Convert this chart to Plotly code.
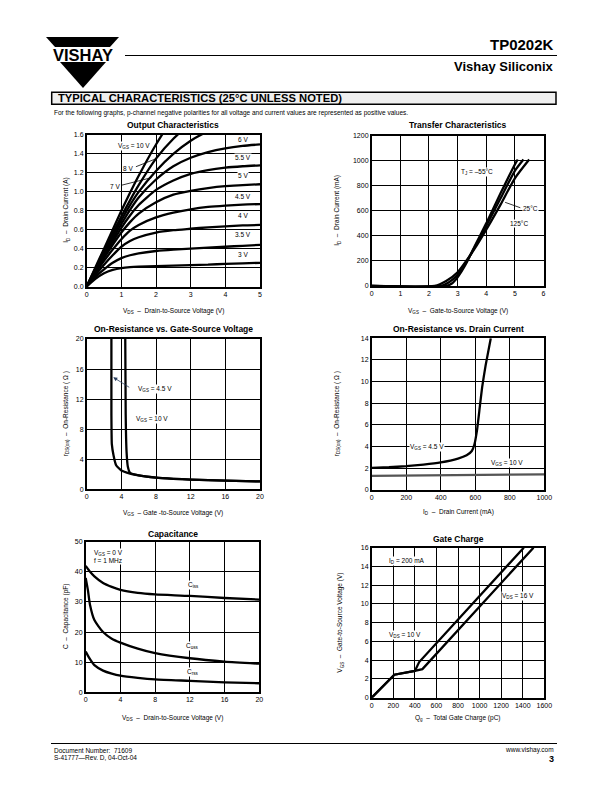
import plotly.graph_objects as go

W, H = 612, 792
FONT = "Liberation Sans"

# ---------------- data ----------------
# Output characteristics (VDS, ID in A) per VGS
out_vds = [0, 0.25, 0.5, 0.75, 1, 1.25, 1.5, 2, 2.5, 3, 3.5, 4, 4.5, 5]
out_10v = [0, 0.20, 0.40, 0.60, 0.80, 0.99, 1.17, 1.50, 1.78, 2.0, 2.2, 2.4, 2.6, 2.8]
out_8v = [0, 0.19, 0.38, 0.56, 0.74, 0.91, 1.07, 1.35, 1.56, 1.72, 1.85, 1.95, 2.0, 2.05]
out_7v = [0, 0.18, 0.36, 0.53, 0.70, 0.86, 1.00, 1.22, 1.40, 1.54, 1.64, 1.72, 1.78, 1.82]
out_6v = [0, 0.17, 0.34, 0.50, 0.66, 0.81, 0.94, 1.13, 1.27, 1.36, 1.42, 1.46, 1.485, 1.50]
out_55v = [0, 0.16, 0.32, 0.47, 0.62, 0.75, 0.86, 1.02, 1.12, 1.19, 1.23, 1.255, 1.27, 1.28]
out_5v = [0, 0.15, 0.30, 0.44, 0.57, 0.68, 0.77, 0.89, 0.97, 1.01, 1.04, 1.06, 1.07, 1.08]
out_45v = [0, 0.14, 0.27, 0.39, 0.50, 0.59, 0.65, 0.73, 0.78, 0.815, 0.84, 0.855, 0.865, 0.87]
out_4v = [0, 0.12, 0.23, 0.33, 0.42, 0.48, 0.52, 0.57, 0.595, 0.61, 0.625, 0.635, 0.645, 0.65]
out_35v = [0, 0.10, 0.18, 0.25, 0.30, 0.33, 0.35, 0.375, 0.39, 0.40, 0.41, 0.42, 0.43, 0.44]
out_3v = [0, 0.08, 0.14, 0.175, 0.195, 0.205, 0.21, 0.215, 0.22, 0.225, 0.23, 0.24, 0.245, 0.25]
out_series = [out_10v, out_8v, out_7v, out_6v, out_55v, out_5v, out_45v, out_4v, out_35v, out_3v]
out_labels = ["6 V", "5.5 V", "5 V", "4.5 V", "4 V", "3.5 V", "3 V"]
out_label_y = [1.55, 1.36, 1.17, 0.95, 0.755, 0.55, 0.34]

# Transfer characteristics (VGS, ID mA)
tr_m55_x = [0, 2.6, 2.8, 3.0, 3.3, 3.6, 4.0, 4.5, 5.0, 5.1]
tr_m55_y = [0, 0, 20, 70, 180, 320, 500, 740, 970, 1010]
tr_25_x = [0, 2.4, 2.7, 3.0, 3.3, 3.6, 4.0, 4.5, 5.0, 5.3]
tr_25_y = [0, 0, 30, 90, 190, 310, 480, 700, 920, 1010]
tr_125_x = [0, 2.2, 2.6, 3.0, 3.3, 3.6, 4.0, 4.5, 5.0, 5.5]
tr_125_y = [0, 0, 40, 110, 200, 300, 450, 650, 860, 1010]

# On-resistance vs gate-source voltage
rg_a_x = [2.85, 2.85, 2.9, 3.1, 3.4, 4.0, 5.0, 6.0, 8.0, 10.0, 12.0, 16.0, 20.0]
rg_a_y = [20, 10, 6, 4.5, 3.2, 2.5, 2.1, 1.85, 1.55, 1.4, 1.3, 1.15, 1.05]
rg_b_x = [4.45, 4.5, 4.6, 4.75, 5.0, 6.0, 8.0, 10.0, 12.0, 16.0, 20.0]
rg_b_y = [20, 10, 5, 3, 2.2, 1.85, 1.55, 1.4, 1.3, 1.15, 1.05]

# On-resistance vs drain current
rd_45_x = [0, 100, 200, 300, 400, 500, 550, 580, 595, 610, 625, 640, 660, 690]
rd_45_y = [2.05, 2.1, 2.2, 2.35, 2.55, 2.9, 3.2, 3.6, 4.2, 5.5, 7.5, 9.5, 11.5, 14]
rd_10_x = [0, 500, 1000]
rd_10_y = [1.3, 1.35, 1.45]

# Capacitance (VDS, pF)
cap_x = [0, 0.25, 0.5, 1, 2, 3, 4, 6, 8, 12, 16, 20]
ciss = [42, 41, 40, 38.5, 36.3, 35, 34, 33, 32.5, 32, 31.3, 30.8]
coss = [38, 34, 29, 24, 20, 17.8, 16.5, 14.5, 13, 11.3, 10.2, 9.5]
crss = [13.5, 12.2, 11, 9, 7.2, 6.2, 5.5, 4.8, 4.3, 3.8, 3.3, 3.0]

# Gate charge (pC, V)
gc_10_x = [0, 210, 400, 440, 1410]
gc_10_y = [0, 2.45, 2.85, 3.8, 16]
gc_16_x = [0, 210, 400, 470, 1500]
gc_16_y = [0, 2.45, 2.85, 3.05, 16]

# ticks
t1x = [0, 1, 2, 3, 4, 5]; t1y = [0, 0.2, 0.4, 0.6, 0.8, 1.0, 1.2, 1.4, 1.6]
t2x = [0, 1, 2, 3, 4, 5, 6]; t2y = [0, 200, 400, 600, 800, 1000, 1200]
t3x = [0, 4, 8, 12, 16, 20]; t3y = [0, 4, 8, 12, 16, 20]
t4x = [0, 200, 400, 600, 800, 1000]; t4y = [0, 2, 4, 6, 8, 10, 12, 14]
t5x = [0, 4, 8, 12, 16, 20]; t5y = [0, 10, 20, 30, 40, 50]
t6x = [0, 200, 400, 600, 800, 1000, 1200, 1400, 1600]; t6y = [0, 2, 4, 6, 8, 10, 12, 14, 16]


def px(p):
    return p / W


def py(p):
    return 1 - p / H


fig = go.Figure()
LW = 2.3
line = dict(color="black", width=LW, shape="spline", smoothing=0.6)

for s in out_series:
    fig.add_trace(go.Scatter(x=out_vds, y=s, mode="lines", line=line, xaxis="x", yaxis="y", hoverinfo="skip"))
for xx, yy in [(tr_m55_x, tr_m55_y), (tr_25_x, tr_25_y), (tr_125_x, tr_125_y)]:
    fig.add_trace(go.Scatter(x=xx, y=yy, mode="lines", line=line, xaxis="x2", yaxis="y2"))
for xx, yy in [(rg_a_x, rg_a_y), (rg_b_x, rg_b_y)]:
    fig.add_trace(go.Scatter(x=xx, y=yy, mode="lines", line=dict(color="black", width=LW, shape="spline", smoothing=0.4), xaxis="x3", yaxis="y3"))
fig.add_trace(go.Scatter(x=rd_45_x, y=rd_45_y, mode="lines", line=dict(color="black", width=LW, shape="spline", smoothing=0.4), xaxis="x4", yaxis="y4"))
fig.add_trace(go.Scatter(x=rd_10_x, y=rd_10_y, mode="lines", line=dict(color="#555555", width=LW), xaxis="x4", yaxis="y4"))
for yy in [ciss, coss, crss]:
    fig.add_trace(go.Scatter(x=cap_x, y=yy, mode="lines", line=line, xaxis="x5", yaxis="y5"))
for xx, yy in [(gc_10_x, gc_10_y), (gc_16_x, gc_16_y)]:
    fig.add_trace(go.Scatter(x=xx, y=yy, mode="lines", line=dict(color="black", width=LW), xaxis="x6", yaxis="y6"))

# plot rectangles in pixels: (left, right, top, bottom)
boxes = [
    (86.7, 260, 135, 286.5),
    (371.7, 543.5, 135.7, 286),
    (86.7, 260, 339, 489.3),
    (371.7, 544.3, 338.3, 490),
    (85.7, 259.3, 541.7, 692.3),
    (371.7, 544.3, 547.7, 697.7),
]
ranges = [
    ([0, 5], [0, 1.6], t1x, t1y, None, ".1f"),
    ([0, 6], [0, 1200], t2x, t2y, None, None),
    ([0, 20], [0, 20], t3x, t3y, None, None),
    ([0, 1000], [0, 14], t4x, t4y, None, None),
    ([0, 20], [0, 50], t5x, t5y, None, None),
    ([0, 1600], [0, 16], t6x, t6y, None, None),
]

layout = dict(width=W, height=H, margin=dict(l=0, r=0, t=0, b=0, pad=0, autoexpand=False),
              paper_bgcolor="white", plot_bgcolor="white", showlegend=False,
              font=dict(family=FONT, color="black"))
for i, (b, r) in enumerate(zip(boxes, ranges), start=1):
    l, rr, t, bb = b
    xr, yr, tx, ty, _, yfmt = r
    common = dict(showgrid=True, gridcolor="black", gridwidth=1, showline=True,
                  linecolor="black", linewidth=1.5, mirror=True, zeroline=False, automargin=False,
                  ticks="", tickfont=dict(size=7, family=FONT, color="black"), fixedrange=True)
    xa = dict(common, domain=[px(l), px(rr)], range=xr, tickvals=tx, anchor=f"y{i}")
    ya = dict(common, domain=[py(bb), py(t)], range=yr, tickvals=ty, anchor=f"x{i}")
    if yfmt:
        ya["tickformat"] = yfmt
    layout["xaxis" if i == 1 else f"xaxis{i}"] = xa
    layout["yaxis" if i == 1 else f"yaxis{i}"] = ya
fig.update_layout(**layout)

ann = []
shapes = []


def txt(x, y, text, size=6.5, bold=False, xanchor="center", yanchor="middle", xref="paper", yref="paper", angle=0, bg=None):
    a = dict(x=x, y=y, xref=xref, yref=yref, text=("<b>%s</b>" % text) if bold else text,
             showarrow=False, xanchor=xanchor, yanchor=yanchor, textangle=angle,
             font=dict(size=size, family=FONT, color="black"))
    if bg:
        a["bgcolor"] = bg
        a["borderpad"] = 0
    ann.append(a)


# Header
shapes.append(dict(type="path", xref="paper", yref="paper",
                   path="M %f %f L %f %f L %f %f L %f %f Z" % (px(46), py(37), px(119), py(37), px(110), py(47), px(55), py(47)),
                   fillcolor="black", line=dict(width=0)))
shapes.append(dict(type="path", xref="paper", yref="paper",
                   path="M %f %f L %f %f L %f %f Z" % (px(60), py(62), px(106), py(62), px(83), py(88)),
                   fillcolor="black", line=dict(width=0)))
txt(px(82.5), py(55), "VISHAY", size=16.5, bold=True)
shapes.append(dict(type="line", xref="paper", yref="paper", x0=px(125), x1=px(557), y0=py(55.5), y1=py(55.5),
                   line=dict(color="black", width=1.2)))
txt(px(556), py(45), "TP0202K", size=15, bold=True, xanchor="right")
txt(px(556), py(67), "Vishay Siliconix", size=13, bold=True, xanchor="right")
shapes.append(dict(type="rect", xref="paper", yref="paper", x0=px(51.7), x1=px(556), y0=py(104.3), y1=py(92.3),
                   fillcolor="#efefef", line=dict(color="black", width=1.5)))
txt(px(56), py(98.5), "TYPICAL CHARACTERISTICS (25°C UNLESS NOTED)", size=11.2, bold=True, xanchor="left")
txt(px(52), py(113), "For the following graphs, p-channel negative polarities for all voltage and current values are represented as positive values.",
    size=6.5, xanchor="left")

# Footer
shapes.append(dict(type="line", xref="paper", yref="paper", x0=px(51), x1=px(557), y0=py(743.5), y1=py(743.5),
                   line=dict(color="black", width=1)))
txt(px(52), py(750), "Document Number:  71609", size=6.5, xanchor="left")
txt(px(52), py(757.5), "S-41777—Rev. D, 04-Oct-04", size=6.5, xanchor="left")
txt(px(556), py(750), "www.vishay.com", size=6.5, xanchor="right")
txt(px(556), py(758.5), "3", size=9, bold=True, xanchor="right")

# Titles
titles = ["Output Characteristics", "Transfer Characteristics", "On-Resistance vs. Gate-Source Voltage",
          "On-Resistance vs. Drain Current", "Capacitance", "Gate Charge"]
title_y = [125, 125, 329, 329, 534, 539]
xt = ["V<sub>DS</sub>  –  Drain-to-Source Voltage (V)", "V<sub>GS</sub>  –  Gate-to-Source Voltage (V)",
      "V<sub>GS</sub>  – Gate -to-Source Voltage (V)", "I<sub>D</sub>  –  Drain Current (mA)",
      "V<sub>DS</sub>  –  Drain-to-Source Voltage (V)", "Q<sub>g</sub>  –  Total Gate Charge (pC)"]
xt_y = [310.5, 310.5, 513, 512, 718, 718]
yt = ["I<sub>D</sub>  –  Drain Current (A)", "I<sub>D</sub>  –  Drain Current (mA)",
      "r<sub>DS(on)</sub>  –  On-Resistance ( Ω )", "r<sub>DS(on)</sub>  –  On-Resistance ( Ω )",
      "C  –  Capacitance (pF)", "V<sub>GS</sub>  –  Gate-to-Source Voltage (V)"]
yt_x = [66, 337, 66, 337, 66, 340]
for i, b in enumerate(boxes):
    l, rr, t, bb = b
    cx = (l + rr) / 2
    cy = (t + bb) / 2
    txt(px(cx), py(title_y[i]), titles[i], size=8.5, bold=True)
    txt(px(cx), py(xt_y[i]), xt[i], size=6.5)
    txt(px(yt_x[i]), py(cy), yt[i], size=6.5, angle=-90)

# Plot 1 labels
for lab, yy in zip(out_labels, out_label_y):
    txt(4.5, yy, lab, xref="x", yref="y", bg="white")
txt(1.37, 1.48, "V<sub>GS</sub> = 10 V", xref="x", yref="y", bg="white")
txt(1.2, 1.25, "8 V", xref="x", yref="y")
txt(0.82, 1.06, "7 V", xref="x", yref="y")
shapes.append(dict(type="line", xref="x", yref="y", x0=1.42, y0=1.265, x1=1.97, y1=1.345, line=dict(color="black", width=0.8)))
shapes.append(dict(type="line", xref="x", yref="y", x0=1.01, y0=1.07, x1=1.875, y1=1.15, line=dict(color="black", width=0.8)))

# Plot 2 labels
txt(3.67, 907, "T<sub>J</sub> = –55°C", xref="x2", yref="y2", bg="white")
txt(5.53, 620, "25°C", xref="x2", yref="y2", bg="white")
txt(5.13, 500, "125°C", xref="x2", yref="y2", bg="white")
shapes.append(dict(type="line", xref="x2", yref="y2", x0=5.19, y0=625, x1=4.66, y1=668, line=dict(color="black", width=0.8)))

# Plot 3 labels
txt(7.88, 13.3, "V<sub>GS</sub> = 4.5 V", xref="x3", yref="y3", bg="white")
txt(7.5, 9.35, "V<sub>GS</sub> = 10 V", xref="x3", yref="y3", bg="white")
ann.append(dict(x=3.07, y=14.9, ax=5.08, ay=13.45, xref="x3", yref="y3", axref="x3", ayref="y3",
                showarrow=True, arrowhead=2, arrowsize=1, arrowwidth=0.8, text=""))

# Plot 4 labels
txt(319, 3.94, "V<sub>GS</sub> = 4.5 V", xref="x4", yref="y4", bg="white")
txt(782, 2.52, "V<sub>GS</sub> = 10 V", xref="x4", yref="y4", bg="white")

# Plot 5 labels
txt(2.6, 46.1, "V<sub>GS</sub> = 0 V", xref="x5", yref="y5", bg="white")
txt(2.6, 43.6, "f = 1 MHz", xref="x5", yref="y5", bg="white")
txt(12.4, 35.6, "C<sub>iss</sub>", xref="x5", yref="y5", bg="white")
txt(12.3, 15.4, "C<sub>oss</sub>", xref="x5", yref="y5", bg="white")
txt(12.3, 6.8, "C<sub>rss</sub>", xref="x5", yref="y5", bg="white")

# Plot 6 labels
txt(325, 14.6, "I<sub>D</sub> = 200 mA", xref="x6", yref="y6", bg="white")
txt(1360, 10.9, "V<sub>DS</sub> = 16 V", xref="x6", yref="y6", bg="white")
txt(309, 6.7, "V<sub>DS</sub> = 10 V", xref="x6", yref="y6", bg="white")

fig.update_layout(annotations=ann, shapes=shapes)
fig.write_html(
    "out.html",
    config={"displayModeBar": False},
    post_script="document.body.style.margin='0px';document.body.style.overflow='hidden';",
)
